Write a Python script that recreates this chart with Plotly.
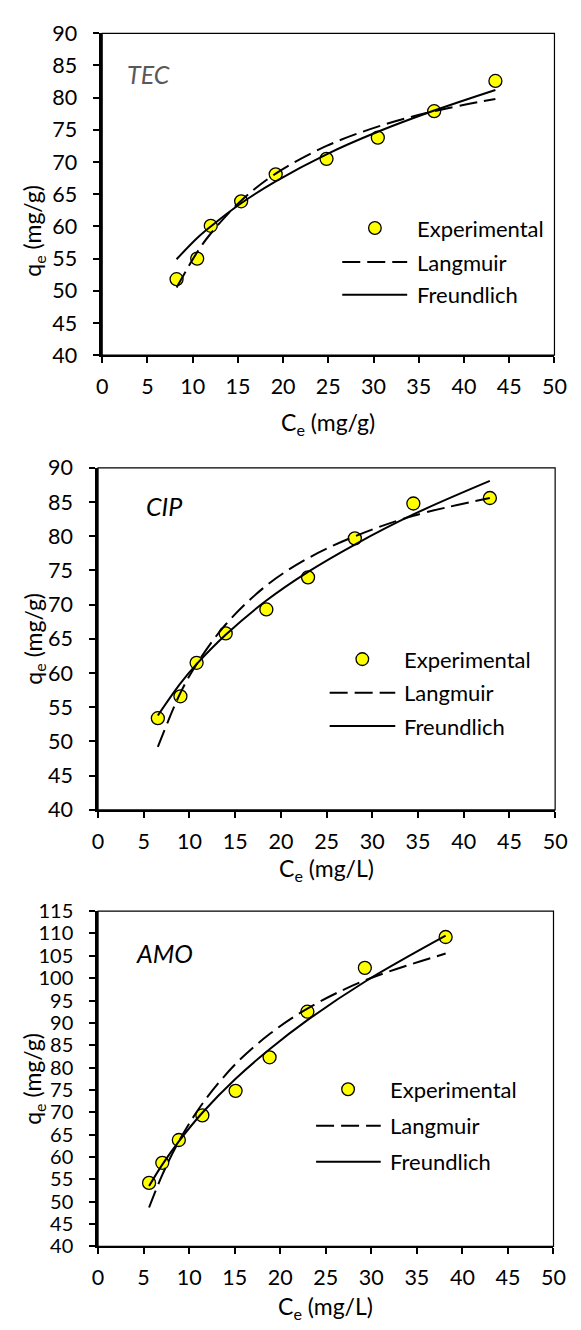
import plotly.graph_objects as go

# ---------------- data ----------------
tec_ce = [8.22, 10.5, 12.0, 15.36, 19.18, 24.8, 30.47, 36.7, 43.47]
tec_qe = [51.8, 55.0, 60.1, 63.9, 68.1, 70.5, 73.8, 77.9, 82.6]
tec_lang = [50.5, 56.0, 58.9, 64.0, 68.2, 72.5, 75.5, 77.9, 79.8]
tec_freu = [54.9, 58.2, 60.0, 63.6, 67.0, 71.2, 74.7, 78.0, 81.2]

cip_ce = [6.54, 9.01, 10.78, 13.96, 18.41, 22.97, 28.09, 34.49, 42.86]
cip_qe = [53.4, 56.6, 61.5, 65.8, 69.3, 74.0, 79.7, 84.8, 85.6]
cip_lang = [49.2, 57.1, 61.3, 67.1, 72.8, 76.8, 80.0, 83.0, 85.6]
cip_freu = [53.8, 58.5, 61.3, 65.6, 70.6, 74.8, 78.8, 83.2, 88.1]

amo_ce = [5.6, 7.05, 8.87, 11.45, 15.1, 18.83, 22.98, 29.29, 38.16]
amo_qe = [54.2, 58.7, 63.8, 69.3, 74.8, 82.3, 92.5, 102.3, 109.2]
amo_lang = [48.7, 56.0, 63.5, 71.9, 80.8, 87.5, 93.2, 99.5, 105.5]
amo_freu = [53.5, 58.3, 63.5, 69.9, 77.5, 84.1, 90.6, 99.2, 109.5]

panel_names = ["TEC", "CIP", "AMO"]
panel_name_colors = ["#595959", "#000000", "#000000"]
x_titles = ["C<sub>e</sub> (mg/g)", "C<sub>e</sub> (mg/L)", "C<sub>e</sub> (mg/L)"]
y_title = "q<sub>e</sub> (mg/g)"
x_range = [0, 50]
y_ranges = [[40, 90], [40, 90], [40, 115]]
tick_step = 5
legend_labels = ["Experimental", "Langmuir", "Freundlich"]

# ---------------- layout geometry (pixels) ----------------
W, H = 581, 1330
FONT = "Lato, 'Open Sans', sans-serif"


def fx(p):
    return p / W


def fy(p):
    return 1 - p / H


# plot area boxes: left, right, top, bottom (px)
boxes = [(99.3, 566.0, 20.7, 349.0), (95.0, 566.7, 464.0, 812.7), (95.0, 565.0, 916.0, 1258.0)]
xtitle_y = [419, 874, 1320]
ytitle_y = [222, 638, 1087]
ytick_font = [21.5, 21.5, 20]
name_pos = [(123, 62), (142, 502.5), (132, 959)]
# legend: marker center, text start x, line x0/x1, rows y
legend_geo = [
    dict(mx=380.7, tx=421.7, lx0=347, lx1=414, ys=[219.3, 254, 287.3]),
    dict(mx=367.7, tx=409, lx0=334, lx1=401.7, ys=[659, 693.3, 727.3]),
    dict(mx=353, tx=394, lx0=320, lx1=386.7, ys=[1097.7, 1135, 1171.7]),
]

data = [
    (tec_ce, tec_qe, tec_lang, tec_freu),
    (cip_ce, cip_qe, cip_lang, cip_freu),
    (amo_ce, amo_qe, amo_lang, amo_freu),
]

DASH = "18px,7px"
fig = go.Figure()
shapes = []
annotations = []

for i, (ce, qe, lang, freu) in enumerate(data):
    k = i + 1
    xa = "x" if k == 1 else f"x{k}"
    ya = "y" if k == 1 else f"y{k}"
    fig.add_trace(go.Scatter(x=ce, y=qe, mode="markers", xaxis=xa, yaxis=ya,
                             marker=dict(size=13, color="#FFFF00", line=dict(color="black", width=1.3)),
                             showlegend=False, name=legend_labels[0]))
    fig.add_trace(go.Scatter(x=ce, y=lang, mode="lines", xaxis=xa, yaxis=ya,
                             line=dict(color="black", width=2, dash=DASH, shape="spline"),
                             showlegend=False, name=legend_labels[1]))
    fig.add_trace(go.Scatter(x=ce, y=freu, mode="lines", xaxis=xa, yaxis=ya,
                             line=dict(color="black", width=2, shape="spline"),
                             showlegend=False, name=legend_labels[2]))

    l, r, t, b = boxes[i]
    axis_common = dict(showgrid=False, zeroline=False, ticks="outside", ticklen=6, tickwidth=1.5,
                       tickcolor="black", showline=True, linecolor="black")
    fig.layout[f"xaxis{k if k > 1 else ''}"] = dict(
        domain=[fx(l), fx(r)], range=x_range, dtick=tick_step, tick0=0, anchor=ya,
        linewidth=2, ticklabelstandoff=5,
        tickfont=dict(family=FONT, size=21.5, color="black"), **axis_common)
    fig.layout[f"yaxis{k if k > 1 else ''}"] = dict(
        domain=[fy(b), fy(t)], range=y_ranges[i], dtick=tick_step, tick0=0, anchor=xa,
        linewidth=2.5, ticklabelstandoff=12,
        tickfont=dict(family=FONT, size=ytick_font[i], color="black"), **axis_common)

    # thin border (top/right) of plot area
    shapes.append(dict(type="rect", xref=f"{xa} domain", yref=f"{ya} domain", x0=0, x1=1, y0=0, y1=1,
                       line=dict(color="black", width=1.2), layer="above"))

    # axis titles
    annotations.append(dict(text=x_titles[i], xref="paper", yref="paper", x=fx((l + r) / 2), y=fy(xtitle_y[i]),
                            xanchor="center", yanchor="middle", showarrow=False,
                            font=dict(family=FONT, size=23, color="black")))
    annotations.append(dict(text=y_title, xref="paper", yref="paper", x=fx(29), y=fy(ytitle_y[i]),
                            xanchor="center", yanchor="middle", showarrow=False, textangle=-90,
                            font=dict(family=FONT, size=23, color="black")))
    # panel name
    nx, ny = name_pos[i]
    annotations.append(dict(text=f"<i>{panel_names[i]}</i>", xref="paper", yref="paper", x=fx(nx), y=fy(ny),
                            xanchor="left", yanchor="middle", showarrow=False,
                            font=dict(family=FONT, size=25, color=panel_name_colors[i])))

    # legend (drawn manually)
    g = legend_geo[i]
    r_m = 6.5
    shapes.append(dict(type="circle", xref="paper", yref="paper",
                       x0=fx(g["mx"] - r_m), x1=fx(g["mx"] + r_m), y0=fy(g["ys"][0] + r_m), y1=fy(g["ys"][0] - r_m),
                       fillcolor="#FFFF00", line=dict(color="black", width=1.3)))
    shapes.append(dict(type="line", xref="paper", yref="paper", x0=fx(g["lx0"]), x1=fx(g["lx1"]),
                       y0=fy(g["ys"][1]), y1=fy(g["ys"][1]), line=dict(color="black", width=2, dash=DASH)))
    shapes.append(dict(type="line", xref="paper", yref="paper", x0=fx(g["lx0"]), x1=fx(g["lx1"]),
                       y0=fy(g["ys"][2]), y1=fy(g["ys"][2]), line=dict(color="black", width=2)))
    for j in range(3):
        annotations.append(dict(text=legend_labels[j], xref="paper", yref="paper", x=fx(g["tx"]), y=fy(g["ys"][j]),
                                xanchor="left", yanchor="middle", showarrow=False,
                                font=dict(family=FONT, size=22, color="black")))

fig.update_layout(width=W, height=H, margin=dict(l=0, r=0, t=0, b=0), paper_bgcolor="white",
                  plot_bgcolor="white", shapes=shapes, annotations=annotations, showlegend=False)

fig.write_html("out.html", config={"displayModeBar": False},
               post_script="document.body.style.margin='0';")
